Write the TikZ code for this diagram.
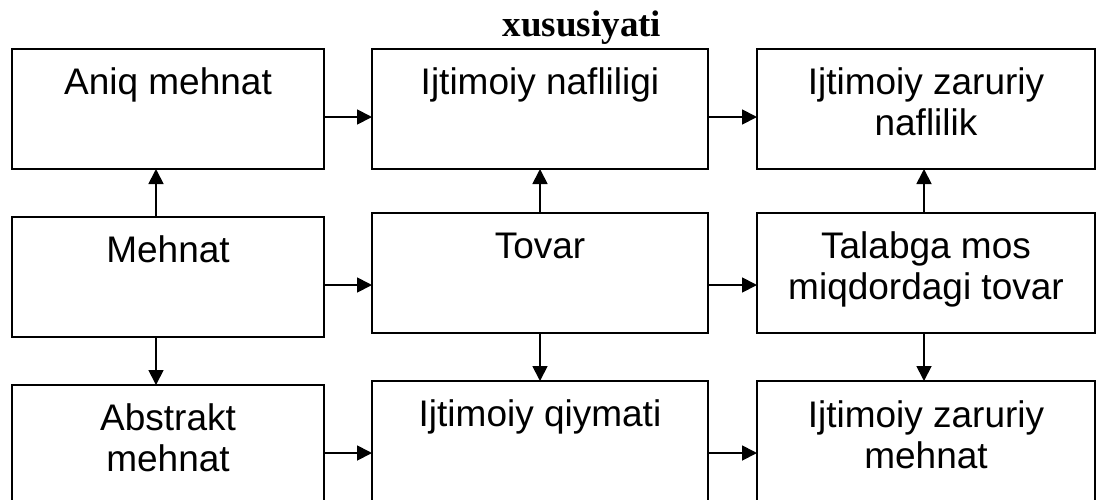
\documentclass[tikz,border=0pt]{standalone}
\usepackage{fontspec}
\setmainfont{Liberation Sans}
\newfontfamily\titlefont{Liberation Serif}
\usetikzlibrary{arrows.meta}
\tikzset{box/.style={draw, line width=1.8pt, minimum width=#1, minimum height=120pt,
    inner sep=0pt, outer sep=0pt, anchor=north west},
  lbl/.style={anchor=base, align=center, inner sep=0pt, font=\fontsize{37}{41}\selectfont},
  link/.style={line width=1.8pt, -{Triangle[length=15pt,width=15pt]}}}

\begin{document}
\begin{tikzpicture}[x=1pt,y=-1pt]
  \useasboundingbox (0,0) rectangle (1106,499);
  \clip (0,0) rectangle (1106,499);
  \node[anchor=base, inner sep=0pt, font=\titlefont\bfseries\fontsize{37}{41}\selectfont] (title) at (582,36) {xususiyati};
  % top row
  \node[box=312pt] (aniq) at (12,49) {};
  \node[box=336pt] (nafl) at (372,49) {};
  \node[box=338pt] (zarnafl) at (757,49) {};
  % middle row
  \node[box=312pt] (mehnat) at (12,217) {};
  \node[box=336pt] (tovar) at (372,213) {};
  \node[box=338pt] (talab) at (757,213) {};
  % bottom row
  \node[box=312pt] (abstr) at (12,385) {};
  \node[box=336pt] (qiymat) at (372,381) {};
  \node[box=338pt] (zarmeh) at (757,381) {};
  % texts (base of a two-line node is its last line)
  \node[lbl] (aniq-t) at ([yshift=-45pt]aniq.north) {Aniq mehnat};
  \node[lbl] (nafl-t) at ([yshift=-45pt]nafl.north) {Ijtimoiy nafliligi};
  \node[lbl] (zarnafl-t) at ([yshift=-86pt]zarnafl.north) {Ijtimoiy zaruriy\\naflilik};
  \node[lbl] (mehnat-t) at ([yshift=-45pt]mehnat.north) {Mehnat};
  \node[lbl] (tovar-t) at ([yshift=-45pt]tovar.north) {Tovar};
  \node[lbl] (talab-t) at ([yshift=-86pt]talab.north) {Talabga mos\\miqdordagi tovar};
  \node[lbl] (abstr-t) at ([yshift=-86pt]abstr.north) {Abstrakt\\mehnat};
  \node[lbl] (qiymat-t) at ([yshift=-45pt]qiymat.north) {Ijtimoiy qiymati};
  \node[lbl] (zarmeh-t) at ([yshift=-87pt]zarmeh.north) {Ijtimoiy zaruriy\\mehnat};
  % arrows
  \draw[link] (aniq.east |- 0,117) -- (nafl.west |- 0,117);
  \draw[link] (nafl.east |- 0,117) -- (zarnafl.west |- 0,117);
  \draw[link] (mehnat.east |- 0,285) -- (tovar.west |- 0,285);
  \draw[link] (tovar.east |- 0,285) -- (talab.west |- 0,285);
  \draw[link] (abstr.east |- 0,453) -- (qiymat.west |- 0,453);
  \draw[link] (qiymat.east |- 0,453) -- (zarmeh.west |- 0,453);
  \draw[link] (mehnat.north -| 156,0) -- (aniq.south -| 156,0);
  \draw[link] (mehnat.south -| 156,0) -- (abstr.north -| 156,0);
  \draw[link] (tovar.north) -- (nafl.south);
  \draw[link] (tovar.south) -- (qiymat.north);
  \draw[link] (talab.north -| 924,0) -- (zarnafl.south -| 924,0);
  \draw[link] (talab.south -| 924,0) -- (zarmeh.north -| 924,0);
\end{tikzpicture}
\end{document}
